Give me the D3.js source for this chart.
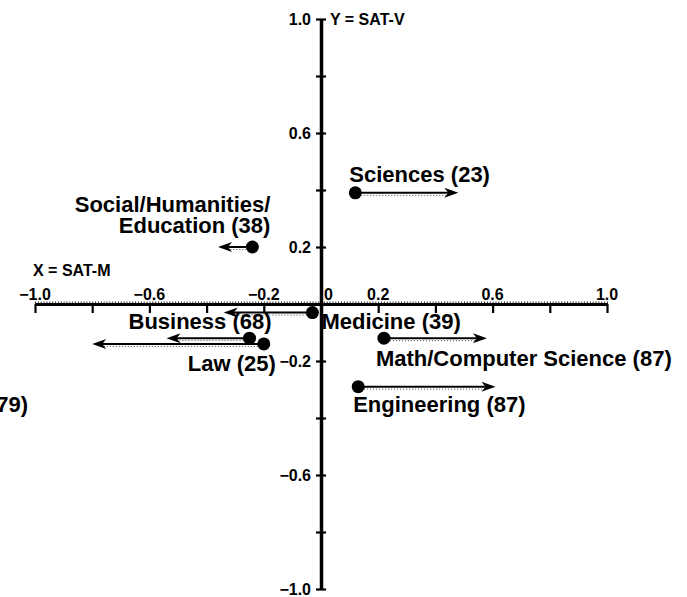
<!DOCTYPE html>
<html><head><meta charset="utf-8">
<script src="https://cdn.jsdelivr.net/npm/d3@7"></script>
<style>
body{margin:0;background:#fff}
svg{display:block}
text{font-family:"Liberation Sans",Arial,sans-serif;font-weight:bold;fill:#000}
</style>
</head><body><div id="chart"></div>
<script>
// fields with number of cases, dot = (SAT-M, SAT-V), arrow ends at satMEnd
var fields = ["Sciences (23)", "Social/Humanities/|Education (38)", "Medicine (39)", "Business (68)", "Law (25)", "Math/Computer Science (87)", "Engineering (87)"];
var satM = [0.12, -0.24, -0.03, -0.25, -0.20, 0.22, 0.13];
var satV = [0.39, 0.20, -0.03, -0.12, -0.14, -0.12, -0.29];
var satMEnd = [0.48, -0.36, -0.34, -0.54, -0.80, 0.58, 0.61];
var xTickLabels = [-1.0, -0.6, -0.2, 0, 0.2, 0.6, 1.0];
var yTickLabels = [1.0, 0.6, 0.2, -0.2, -0.6, -1.0];

// label placement relative to the dot, in px
var labelPos = [
  {dx: -6, dy: -11, anchor: "start"},
  {dx: 18, dy: -35, anchor: "end"},
  {dx: 9, dy: 16, anchor: "start"},
  {dx: -121, dy: -9, anchor: "start"},
  {dx: 12, dy: 27, anchor: "end"},
  {dx: -8, dy: 28, anchor: "start"},
  {dx: -5, dy: 25, anchor: "start"}
];

var W = 687, H = 597;
var svg = d3.select("#chart").append("svg")
    .attr("width", W)
    .attr("height", H);

var x = d3.scaleLinear().domain([-1, 1]).range([35, 607]);
var y = d3.scaleLinear().domain([-1, 1]).range([589, 19]);
var fmt = d3.format(".1f");
var majors = d3.range(-5, 6).map(function(i){ return i / 5; });

// x axis: minor ticks above, major ticks below, labels above
var xMinor = svg.append("g")
    .attr("transform", "translate(0," + y(0) + ")")
    .call(d3.axisTop(x).tickValues(d3.range(-100, 101).map(function(i){ return i / 100; }))
      .tickSize(2.5).tickFormat(""));
xMinor.selectAll("line").attr("stroke-width", 0.8);
xMinor.select(".domain").remove();

var xMajor = svg.append("g")
    .attr("transform", "translate(0," + y(0) + ")")
    .call(d3.axisBottom(x).tickValues(majors).tickSizeInner(9).tickSizeOuter(0).tickFormat(""));
xMajor.selectAll("line").attr("stroke-width", 2.2);
xMajor.select(".domain").attr("stroke-width", 3);

svg.append("g").selectAll("text")
    .data(xTickLabels)
    .enter()
    .append("text")
      .attr("x", function(d){ return d === 0 ? x(0) + 3 : x(d); })
      .attr("y", y(0) - 4)
      .attr("text-anchor", function(d){ return d === 0 ? "start" : "middle"; })
      .style("font-size", "16px")
      .text(function(d){ return d === 0 ? "0" : fmt(d); });

// y axis: ticks cross the line, labels on the left
var yAx = svg.append("g")
    .attr("transform", "translate(" + x(0) + ",0)")
    .call(d3.axisLeft(y).tickValues(majors).tickSizeInner(5).tickSizeOuter(0).tickFormat(""));
yAx.selectAll("line").attr("stroke-width", 2.2);
yAx.select(".domain").attr("stroke-width", 3.5);
var yAxR = svg.append("g")
    .attr("transform", "translate(" + x(0) + ",0)")
    .call(d3.axisRight(y).tickValues(majors).tickSizeInner(5).tickSizeOuter(0).tickFormat(""));
yAxR.selectAll("line").attr("stroke-width", 2.2);
yAxR.select(".domain").remove();

svg.append("g").selectAll("text")
    .data(yTickLabels)
    .enter()
    .append("text")
      .attr("x", x(0) - 10)
      .attr("y", function(d){ return y(d); })
      .attr("dy", "0.36em")
      .attr("text-anchor", "end")
      .style("font-size", "16px")
      .text(function(d){ return fmt(d); });

// axis names
svg.append("text").attr("x", x(0) + 9).attr("y", y(1)).attr("dy", "0.36em")
    .style("font-size", "16px").text("Y = SAT-V");
svg.append("text").attr("x", 33).attr("y", 276)
    .style("font-size", "16px").text("X = SAT-M");

// arrows
var idx = d3.range(fields.length);
var arrows = svg.append("g");
idx.forEach(function(i){
  var x0 = x(satM[i]), x1 = x(satMEnd[i]), yy = y(satV[i]);
  var s = x1 > x0 ? 1 : -1;
  arrows.append("line")
      .attr("x1", x0).attr("x2", x1 - s * 9)
      .attr("y1", yy + 2.5).attr("y2", yy + 2.5)
      .attr("stroke", "#444").attr("stroke-width", 1)
      .attr("stroke-dasharray", "1,2");
  arrows.append("line")
      .attr("x1", x0).attr("x2", x1 - s * 8)
      .attr("y1", yy).attr("y2", yy)
      .attr("stroke", "#000").attr("stroke-width", 2);
  arrows.append("path")
      .attr("d", "M" + x1 + "," + yy +
                 "L" + (x1 - s * 14) + "," + (yy - 5) +
                 "L" + (x1 - s * 10) + "," + yy +
                 "L" + (x1 - s * 14) + "," + (yy + 5) + "Z")
      .attr("fill", "#000");
});

// dots
svg.append("g").selectAll("circle")
    .data(idx)
    .enter()
    .append("circle")
      .attr("cx", function(i){ return x(satM[i]); })
      .attr("cy", function(i){ return y(satV[i]); })
      .attr("r", 6.5)
      .attr("fill", "#000");

// labels
svg.append("g").selectAll("text")
    .data(idx)
    .enter()
    .append("text")
      .attr("x", function(i){ return x(satM[i]) + labelPos[i].dx; })
      .attr("y", function(i){ return y(satV[i]) + labelPos[i].dy; })
      .attr("text-anchor", function(i){ return labelPos[i].anchor; })
      .style("font-size", "22px")
      .each(function(i){
        var t = d3.select(this);
        fields[i].split("|").forEach(function(line, k){
          t.append("tspan")
            .attr("x", t.attr("x"))
            .attr("dy", k === 0 ? 0 : 21)
            .text(line);
        });
      });

// label cut off at the left edge of the original
svg.append("text").attr("x", 28).attr("y", 412)
    .attr("text-anchor", "end")
    .style("font-size", "22px").text("79)");
</script>
</body></html>
